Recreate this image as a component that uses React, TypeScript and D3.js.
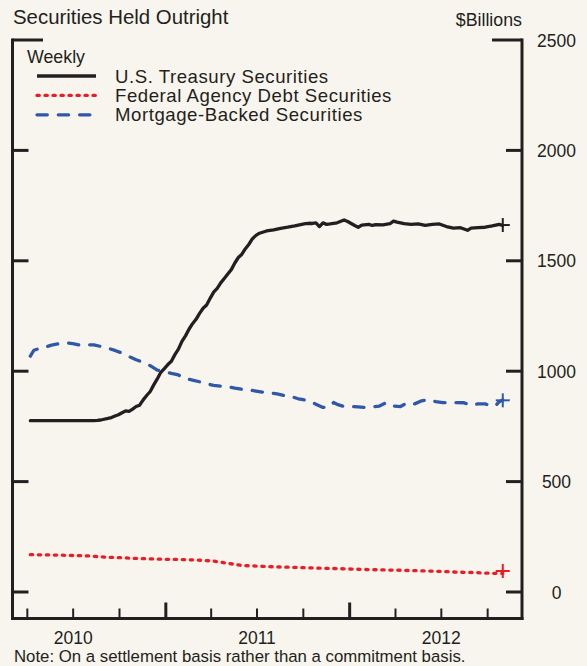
import React from "react";
import * as d3 from "d3";

const W = 587;
const H = 666;

const treasuryDates = [
  "2010-04-07","2010-08-11","2010-08-18","2010-08-25","2010-09-08","2010-09-15","2010-09-22","2010-09-29",
  "2010-10-06","2010-10-13","2010-10-20","2010-10-27","2010-11-03","2010-11-10","2010-11-17","2010-11-24",
  "2010-12-01","2010-12-08","2010-12-15","2010-12-22","2010-12-29","2011-01-05","2011-01-12","2011-01-19",
  "2011-01-26","2011-02-02","2011-02-09","2011-02-16","2011-02-23","2011-03-02","2011-03-09","2011-03-16",
  "2011-03-23","2011-03-30","2011-04-06","2011-04-13","2011-04-20","2011-04-27","2011-05-04","2011-05-11",
  "2011-05-18","2011-05-25","2011-06-01","2011-06-08","2011-06-15","2011-06-22","2011-06-29","2011-07-06",
  "2011-07-20","2011-08-03","2011-08-17","2011-08-31","2011-09-14","2011-09-28","2011-10-05","2011-10-12",
  "2011-10-19","2011-10-26","2011-11-02","2011-11-09","2011-11-16","2011-11-23","2011-12-07","2011-12-21",
  "2011-12-28","2012-01-11","2012-01-18","2012-01-25","2012-02-08","2012-02-15","2012-02-22","2012-03-07",
  "2012-03-21","2012-03-28","2012-04-04","2012-04-18","2012-05-02","2012-05-16","2012-05-30","2012-06-13",
  "2012-06-27","2012-07-11","2012-07-25","2012-08-08","2012-08-22","2012-08-29","2012-09-12","2012-09-26",
  "2012-10-10","2012-10-24","2012-10-31"
];
const treasuryValues = [
  776,776,777,779,786,790,797,803,
  812,820,818,828,840,846,870,890,
  908,938,965,995,1012,1030,1045,1075,
  1100,1135,1160,1190,1215,1235,1262,1285,
  1300,1330,1358,1375,1400,1420,1440,1460,
  1490,1515,1530,1555,1575,1600,1615,1625,
  1635,1640,1647,1652,1658,1665,1668,1670,
  1669,1672,1655,1672,1665,1667,1672,1685,
  1678,1660,1652,1662,1665,1660,1664,1663,
  1668,1680,1675,1668,1665,1667,1660,1665,
  1667,1655,1648,1650,1638,1648,1650,1652,
  1658,1665,1660
];

const agencyDates = [
  "2010-04-07","2010-05-05","2010-06-02","2010-07-07","2010-08-04","2010-09-01","2010-10-06","2010-11-03",
  "2010-12-01","2011-01-05","2011-02-02","2011-03-02","2011-04-06","2011-05-04","2011-06-01","2011-07-06",
  "2011-08-03","2011-09-07","2011-10-05","2011-11-02","2011-12-07","2012-01-04","2012-02-01","2012-03-07",
  "2012-04-04","2012-05-02","2012-06-06","2012-07-04","2012-08-01","2012-09-05","2012-10-03","2012-10-31"
];
const agencyValues = [
  169,168,167,165,163,158,155,152,
  150,148,147,145,140,130,120,117,
  114,112,110,108,106,104,102,100,
  99,97,95,93,90,88,85,84
];

const mbsDates = [
  "2010-04-07","2010-04-14","2010-04-21","2010-05-05","2010-05-19","2010-06-02","2010-06-16","2010-06-30",
  "2010-07-14","2010-07-28","2010-08-11","2010-08-25","2010-09-08","2010-09-22","2010-10-06","2010-10-20",
  "2010-11-03","2010-11-17","2010-12-01","2010-12-15","2010-12-29","2011-01-12","2011-01-26","2011-02-09",
  "2011-02-23","2011-03-09","2011-03-23","2011-04-06","2011-04-20","2011-05-04","2011-05-18","2011-06-01",
  "2011-06-15","2011-06-29","2011-07-13","2011-07-27","2011-08-10","2011-08-24","2011-09-07","2011-09-21",
  "2011-09-28","2011-10-12","2011-10-26","2011-11-09","2011-11-23","2011-11-30","2011-12-07","2011-12-21",
  "2012-01-04","2012-01-18","2012-02-01","2012-02-15","2012-02-29","2012-03-14","2012-03-28","2012-04-11",
  "2012-04-25","2012-05-09","2012-05-23","2012-06-06","2012-06-20","2012-07-04","2012-07-18","2012-08-01",
  "2012-08-15","2012-08-29","2012-09-12","2012-09-26","2012-10-10","2012-10-17","2012-10-24","2012-10-31"
];
const mbsValues = [
  1068,1095,1100,1108,1118,1124,1129,1125,
  1118,1120,1119,1112,1104,1094,1082,1066,
  1052,1040,1025,1005,998,990,983,966,
  960,952,943,936,932,930,923,918,
  915,910,905,902,897,890,885,875,
  872,866,850,836,840,858,850,840,
  840,838,836,838,842,858,842,840,
  858,852,866,872,862,858,857,858,
  857,845,852,852,840,845,862,870
];

const endMarkerDate = "2012-10-31";
const endMarkerValues = [1662, 95, 868];

const yTicks = [0, 500, 1000, 1500, 2000, 2500];
const yearLabels = ["2010", "2011", "2012"];

const legendLabels = [
  "U.S. Treasury Securities",
  "Federal Agency Debt Securities",
  "Mortgage-Backed Securities",
];

const INK = "#231f20";
const RED = "#ed1c24";
const BLUE = "#2f58aa";
const BG = "#f8f5ee";
const FONT = "'Liberation Sans', Arial, Helvetica, sans-serif";

export default function App() {
  const parse = d3.timeParse("%Y-%m-%d");
  const x = d3
    .scaleTime()
    .domain([new Date(2010, 0, 1), new Date(2013, 0, 1)])
    .range([-18, 534]);
  const y = d3.scaleLinear().domain([0, 2500]).range([592, 40]);

  const mk = (dates: string[], vals: number[]) =>
    dates.map((d, i) => ({ date: parse(d) as Date, value: vals[i] }));

  const series = [
    { data: mk(treasuryDates, treasuryValues), color: INK, dash: undefined as string | undefined, cap: "round" },
    { data: mk(agencyDates, agencyValues), color: RED, dash: "2.3 5.7", cap: "round" },
    { data: mk(mbsDates, mbsValues), color: BLUE, dash: "10.3 11", cap: "round" },
  ];

  const line = d3
    .line<{ date: Date; value: number }>()
    .x((d) => x(d.date))
    .y((d) => y(d.value))
    .curve(d3.curveLinear);

  const left = 12.5;
  const right = 522;
  const bottom = 618.5;
  const top = 40;

  const quarterTicks = d3.timeMonth.every(3)!.range(new Date(2010, 3, 1), new Date(2013, 0, 1));
  const endX = x(parse(endMarkerDate) as Date);

  return (
    <svg
      width={W}
      height={H}
      style={{ position: "absolute", left: 0, top: 0, background: BG }}
      fontFamily={FONT}
    >
      <rect x={0} y={0} width={W} height={H} fill={BG} />
      <text x={13} y={24} fontSize={20.4} fill={INK}>
        Securities Held Outright
      </text>
      <text x={522} y={26} fontSize={17.8} fill={INK} textAnchor="end">
        $Billions
      </text>

      {/* frame */}
      <g stroke={INK} strokeWidth={3} fill="none">
        <line x1={left} y1={top - 1.5} x2={left} y2={bottom + 1.5} />
        <line x1={right} y1={top - 1.5} x2={right} y2={bottom + 1.5} />
        <line x1={left - 1.5} y1={bottom} x2={right + 1.5} y2={bottom} />
        <line x1={left} y1={top} x2={43} y2={top} />
        <line x1={492} y1={top} x2={right} y2={top} />
        {yTicks
          .filter((v) => v !== 2500)
          .map((v) => (
            <g key={v}>
              <line x1={left} y1={y(v)} x2={left + 16} y2={y(v)} />
              <line x1={right - 16} y1={y(v)} x2={right} y2={y(v)} />
            </g>
          ))}
        {quarterTicks.map((d, i) => {
          const major = d.getMonth() === 0;
          return (
            <line
              key={i}
              x1={x(d)}
              x2={x(d)}
              y1={bottom}
              y2={bottom - (major ? 16 : 10)}
              strokeWidth={major ? 3 : 2}
            />
          );
        })}
      </g>

      {yTicks.map((v) => (
        <text key={v} x={556.5} y={y(v) + 6.5} fontSize={17.5} fill={INK} textAnchor="middle">
          {v}
        </text>
      ))}

      {yearLabels.map((yr) => (
        <text
          key={yr}
          x={x(new Date(+yr, 6, 1))}
          y={644}
          fontSize={17.5}
          fill={INK}
          textAnchor="middle"
        >
          {yr}
        </text>
      ))}

      <text x={14} y={662} fontSize={16.8} fill={INK}>
        Note: On a settlement basis rather than a commitment basis.
      </text>

      {/* legend */}
      <text x={27} y={63} fontSize={17.8} fill={INK}>
        Weekly
      </text>
      {series.map((s, i) => (
        <g key={i}>
          <line
            x1={37}
            x2={96}
            y1={76 + i * 19.4}
            y2={76 + i * 19.4}
            stroke={s.color}
            strokeWidth={3.3}
            strokeDasharray={s.dash}
            strokeLinecap={s.dash ? "round" : "butt"}
          />
          <text x={115} y={83 + i * 19.2} fontSize={18.6} letterSpacing={0.55} fill={INK}>
            {legendLabels[i]}
          </text>
        </g>
      ))}

      {/* series */}
      {series.map((s, i) => (
        <path
          key={i}
          d={line(s.data) || ""}
          fill="none"
          stroke={s.color}
          strokeWidth={3.3}
          strokeDasharray={s.dash}
          strokeLinecap={s.cap as any}
          strokeLinejoin="round"
        />
      ))}

      {/* end markers */}
      {endMarkerValues.map((v, i) => (
        <g key={i} stroke={series[i].color} strokeWidth={2}>
          <line x1={endX - 7} x2={endX + 7} y1={y(v)} y2={y(v)} />
          <line x1={endX} x2={endX} y1={y(v) - 7} y2={y(v) + 7} />
        </g>
      ))}
    </svg>
  );
}
